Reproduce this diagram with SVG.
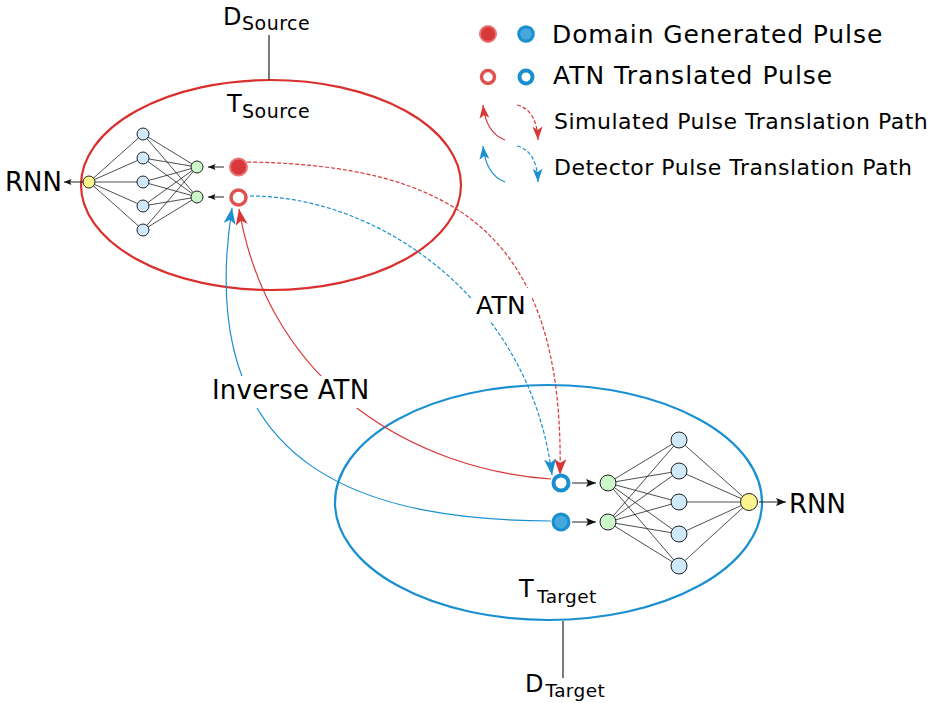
<svg xmlns="http://www.w3.org/2000/svg" width="935" height="703" viewBox="0 0 935 703">
<style>
text{font-family:"DejaVu Sans","Liberation Sans",sans-serif;fill:#000}
.net{stroke:#222;stroke-width:0.8;fill:none}
.nb{fill:#cde9fa;stroke:#222;stroke-width:1}
.ng{fill:#ccf7c8;stroke:#222;stroke-width:1}
.ny{fill:#fbf58c;stroke:#222;stroke-width:1}
.blk{stroke:#222;stroke-width:1;fill:none}
.red{stroke:#d93636;stroke-width:1.2;fill:none}
.blue{stroke:#1a90d2;stroke-width:1.2;fill:none}
.dash{stroke-dasharray:4 2}
.redF{fill:#d9383a;stroke:#e97474;stroke-width:2}
.redO{fill:#fff;stroke:#e05252;stroke-width:3.5}
.blueF{fill:#45a7dc;stroke:#1a8fd0;stroke-width:3}
.blueO{fill:#fff;stroke:#1a8fd0;stroke-width:4}
.lab{font-size:25px}
</style>
<defs>
<marker id="aR" viewBox="0 0 16 12" refX="16" refY="6" markerWidth="16" markerHeight="12" markerUnits="userSpaceOnUse" orient="auto"><path d="M0,0 L16,6 L0,12 L4,6 z" fill="#d93636"/></marker>
<marker id="aB" viewBox="0 0 16 12" refX="16" refY="6" markerWidth="16" markerHeight="12" markerUnits="userSpaceOnUse" orient="auto"><path d="M0,0 L16,6 L0,12 L4,6 z" fill="#1a90d2"/></marker>
<marker id="aRs" viewBox="0 0 16 12" refX="16" refY="6" markerWidth="14" markerHeight="10" markerUnits="userSpaceOnUse" orient="auto"><path d="M0,0 L16,6 L0,12 L4,6 z" fill="#d93636"/></marker>
<marker id="aBs" viewBox="0 0 16 12" refX="16" refY="6" markerWidth="14" markerHeight="10" markerUnits="userSpaceOnUse" orient="auto"><path d="M0,0 L16,6 L0,12 L4,6 z" fill="#1a90d2"/></marker>
<marker id="aK" viewBox="0 0 10 8" refX="10" refY="4" markerWidth="8" markerHeight="6" markerUnits="userSpaceOnUse" orient="auto"><path d="M0,0 L10,4 L0,8 L2,4 z" fill="#111"/></marker>
<marker id="aKL" viewBox="0 0 10 8" refX="10" refY="4" markerWidth="11" markerHeight="8" markerUnits="userSpaceOnUse" orient="auto"><path d="M0,0 L10,4 L0,8 L2,4 z" fill="#111"/></marker>
</defs>

<g id="domain-source">
<ellipse cx="271" cy="185" rx="190" ry="105" fill="none" stroke="#d9302e" stroke-width="2.2"/>
<line x1="269" y1="35" x2="269" y2="80" stroke="#333" stroke-width="1.3"/>
<text x="223" y="25" font-size="24">D</text>
<text x="242" y="29.5" font-size="19" letter-spacing="0.5">Source</text>
<text x="227" y="111.5" font-size="24">T</text>
<text x="242" y="118" font-size="19" letter-spacing="0.5">Source</text>
</g>

<g id="domain-target">
<ellipse cx="548.5" cy="502.5" rx="213.5" ry="117.5" fill="none" stroke="#1a90d2" stroke-width="2.2"/>
<line x1="563" y1="621" x2="563" y2="678" stroke="#333" stroke-width="1.3"/>
<text x="519" y="597" font-size="24">T</text>
<text x="537" y="602.5" font-size="18.5" letter-spacing="0.4">Target</text>
<text x="525" y="692" font-size="24">D</text>
<text x="545.5" y="697" font-size="18.5" letter-spacing="0.4">Target</text>
</g>

<g id="source-network">
<path class="net" d="M89,182 L143,134 M89,182 L143,158 M89,182 L143,182 M89,182 L143,206 M89,182 L143,230
M143,134 L197,167 M143,158 L197,167 M143,182 L197,167 M143,206 L197,167 M143,230 L197,167
M143,134 L197,197 M143,158 L197,197 M143,182 L197,197 M143,206 L197,197 M143,230 L197,197"/>
<circle class="ny" cx="89" cy="182" r="6"/>
<circle class="nb" cx="143" cy="134" r="6"/>
<circle class="nb" cx="143" cy="158" r="6"/>
<circle class="nb" cx="143" cy="182" r="6"/>
<circle class="nb" cx="143" cy="206" r="6"/>
<circle class="nb" cx="143" cy="230" r="6"/>
<circle class="ng" cx="197" cy="167" r="6"/>
<circle class="ng" cx="197" cy="197" r="6"/>
<line class="blk" x1="83" y1="182" x2="64" y2="182" marker-end="url(#aK)"/>
<line class="blk" x1="224" y1="167" x2="208" y2="167" marker-end="url(#aK)"/>
<line class="blk" x1="224" y1="197" x2="208" y2="197" marker-end="url(#aK)"/>
<text x="5" y="191" font-size="26">RNN</text>
</g>

<g id="target-network">
<path class="net" d="M608,483 L679,440 M608,483 L679,471 M608,483 L679,502 M608,483 L679,534 M608,483 L679,566
M608,522 L679,440 M608,522 L679,471 M608,522 L679,502 M608,522 L679,534 M608,522 L679,566
M679,440 L749,502 M679,471 L749,502 M679,502 L749,502 M679,534 L749,502 M679,566 L749,502"/>
<circle class="ng" cx="608" cy="483" r="8"/>
<circle class="ng" cx="608" cy="522" r="8"/>
<circle class="nb" cx="679" cy="440" r="8"/>
<circle class="nb" cx="679" cy="471" r="8"/>
<circle class="nb" cx="679" cy="502" r="8"/>
<circle class="nb" cx="679" cy="534" r="8"/>
<circle class="nb" cx="679" cy="566" r="8"/>
<circle class="ny" cx="749" cy="502" r="8.5"/>
<line class="blk" x1="572" y1="483" x2="596" y2="483" marker-end="url(#aKL)"/>
<line class="blk" x1="572" y1="522" x2="596" y2="522" marker-end="url(#aKL)"/>
<line class="blk" x1="759" y1="502" x2="786" y2="502" marker-end="url(#aKL)"/>
<text x="789" y="513" font-size="26">RNN</text>
</g>

<g id="connectors">
<path class="red dash" d="M247,162 C450,165 565,230 560,475" marker-end="url(#aR)"/>
<path class="blue dash" d="M250,196 C380,196 530,300 552,475" marker-end="url(#aB)"/>
<path class="red" d="M551,479 C420,470 270,390 239,209" marker-end="url(#aR)"/>
<path class="blue" d="M551,521 C380,520 190,480 232,208" marker-end="url(#aB)"/>
</g>

<g id="pulses">
<circle class="redF" cx="238.5" cy="167" r="8.5"/>
<circle class="redO" cx="238.5" cy="197.5" r="7.5"/>
<circle class="blueO" cx="561" cy="483" r="7.5"/>
<circle class="blueF" cx="561" cy="522" r="8"/>
</g>

<g id="labels">
<rect x="472" y="288" width="60" height="33" fill="#fff"/>
<text class="lab" x="476" y="314" letter-spacing="0.3">ATN</text>
<rect x="207" y="376" width="172" height="32" fill="#fff"/>
<text x="212" y="399" font-size="26" letter-spacing="0.2">Inverse ATN</text>
</g>

<g id="legend">
<circle class="redF" cx="488" cy="34" r="8"/>
<circle class="blueF" cx="526" cy="34" r="7.3"/>
<text x="552" y="43" font-size="25" letter-spacing="0.9">Domain Generated Pulse</text>
<circle class="redO" cx="488" cy="77" r="6.5" stroke-width="3"/>
<circle class="blueO" cx="526" cy="77" r="6.5" stroke-width="3"/>
<text x="553" y="84" font-size="25" letter-spacing="1">ATN Translated Pulse</text>
<path class="red" d="M505,140 Q486,133 483,105" marker-end="url(#aRs)"/>
<path class="red dash" d="M517,105 Q537,110 538,140" marker-end="url(#aRs)"/>
<text x="554" y="129" font-size="22" letter-spacing="0.5">Simulated Pulse Translation Path</text>
<path class="blue" d="M505,182 Q486,175 483,146" marker-end="url(#aBs)"/>
<path class="blue dash" d="M517,146 Q537,151 538,182" marker-end="url(#aBs)"/>
<text x="554" y="175" font-size="22" letter-spacing="0.5">Detector Pulse Translation Path</text>
</g>
</svg>
